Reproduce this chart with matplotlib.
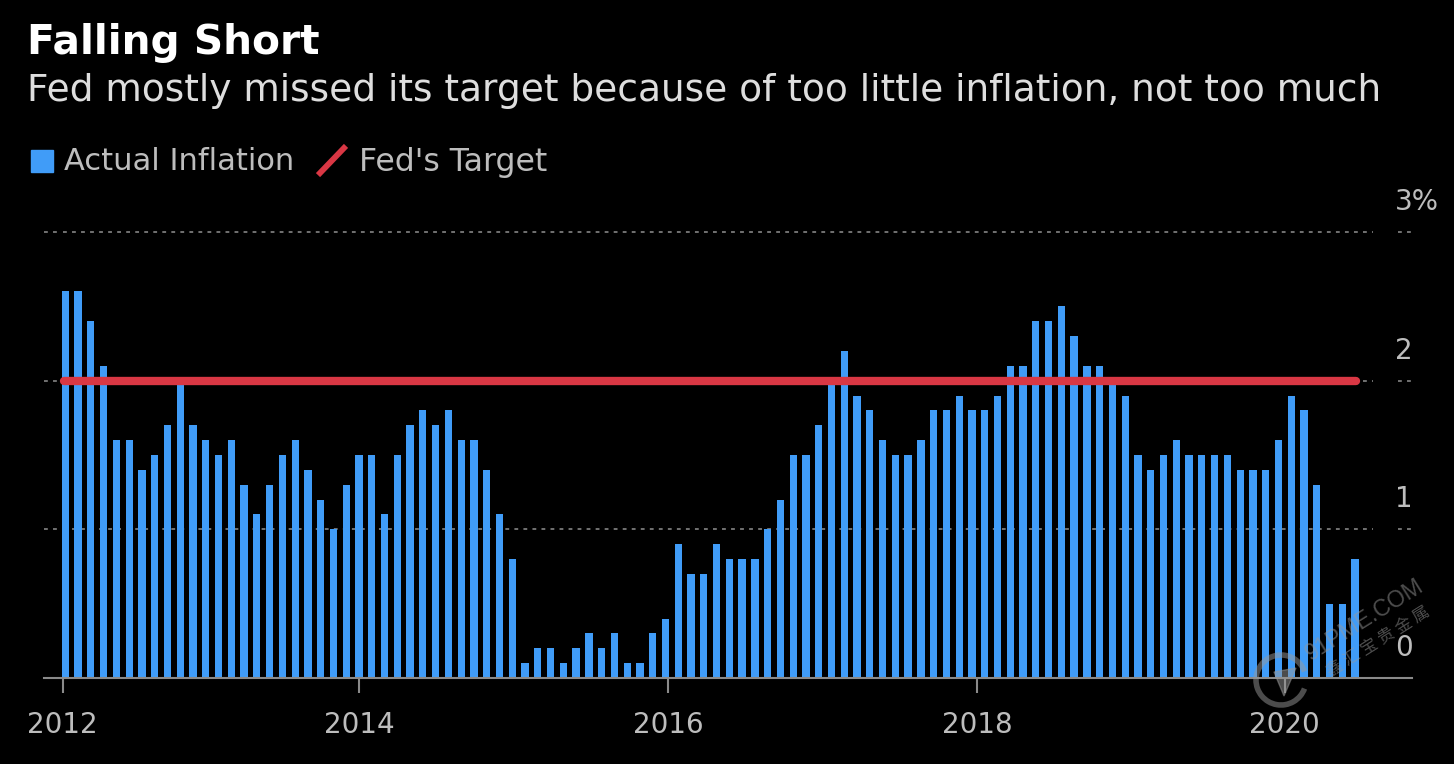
"""Falling Short: actual inflation vs the Fed's target, dark bar chart."""

import matplotlib

matplotlib.use("Agg")

import matplotlib.pyplot as plt
import numpy as np
from matplotlib.patches import Arc, Polygon

WIDTH, HEIGHT = 1454, 764

# monthly values, Jan 2012 - Jun 2020
inflation_2012 = [2.6, 2.6, 2.4, 2.1, 1.6, 1.6, 1.4, 1.5, 1.7, 2.0, 1.7, 1.6]
inflation_2013 = [1.5, 1.6, 1.3, 1.1, 1.3, 1.5, 1.6, 1.4, 1.2, 1.0, 1.3, 1.5]
inflation_2014 = [1.5, 1.1, 1.5, 1.7, 1.8, 1.7, 1.8, 1.6, 1.6, 1.4, 1.1, 0.8]
inflation_2015 = [0.1, 0.2, 0.2, 0.1, 0.2, 0.3, 0.2, 0.3, 0.1, 0.1, 0.3, 0.4]
inflation_2016 = [0.9, 0.7, 0.7, 0.9, 0.8, 0.8, 0.8, 1.0, 1.2, 1.5, 1.5, 1.7]
inflation_2017 = [2.0, 2.2, 1.9, 1.8, 1.6, 1.5, 1.5, 1.6, 1.8, 1.8, 1.9, 1.8]
inflation_2018 = [1.8, 1.9, 2.1, 2.1, 2.4, 2.4, 2.5, 2.3, 2.1, 2.1, 2.0, 1.9]
inflation_2019 = [1.5, 1.4, 1.5, 1.6, 1.5, 1.5, 1.5, 1.5, 1.4, 1.4, 1.4, 1.6]
inflation_2020 = [1.9, 1.8, 1.3, 0.5, 0.5, 0.8]
target = 2.0

year_ticks = [-0.2, 23, 47.2, 71.4, 95.5]
year_labels = ["2012", "2014", "2016", "2018", "2020"]
y_ticks = [0, 1, 2, 3]
y_labels = ["0", "1", "2", "3%"]

BLUE = "#409cf8"
RED = "#d93744"
GREY = "#8a8a8a"
LIGHT = "#bdbdbd"

BAR_START, BAR_STEP = 65.3, 12.77
AX_LEFT, AX_RIGHT, AX_BOTTOM, AX_TOP = 44, 1412, 678, 232
FONT = "DejaVu Sans"


def fx(px):
    return px / WIDTH


def fy(py):
    return 1 - py / HEIGHT


def data_x(px):
    return (px - BAR_START) / BAR_STEP


values = np.array(
    inflation_2012 + inflation_2013 + inflation_2014 + inflation_2015 + inflation_2016
    + inflation_2017 + inflation_2018 + inflation_2019 + inflation_2020
)
months = np.arange(len(values))

fig = plt.figure(figsize=(WIDTH / 100, HEIGHT / 100), dpi=100, facecolor="black")
ax = fig.add_axes([fx(AX_LEFT), fy(AX_BOTTOM), fx(AX_RIGHT - AX_LEFT), (AX_BOTTOM - AX_TOP) / HEIGHT])
ax.set_facecolor("black")
ax.set_xlim(data_x(AX_LEFT), data_x(AX_RIGHT))
ax.set_ylim(0, 3)

for level in y_ticks[1:]:
    for start, end in [(44, 58), (63, 1373), (1398, 1412)]:
        ax.plot([data_x(start), data_x(end)], [level, level], color="#7f7f7f", lw=1.25,
                ls=(0, (2.2, 3)), zorder=1, clip_on=False)

ax.bar(months, values, width=0.57, color=BLUE, zorder=2)
ax.plot([months[0] - 0.1, months[-1] + 0.1], [target, target], color=RED, lw=6,
        solid_capstyle="round", zorder=3)

for side in ["top", "right", "left"]:
    ax.spines[side].set_visible(False)
ax.spines["bottom"].set_color(GREY)
ax.spines["bottom"].set_linewidth(1.5)
ax.spines["bottom"].set_zorder(4)
ax.set_yticks([])
ax.set_xticks(year_ticks)
ax.set_xticklabels(year_labels)
ax.tick_params(axis="x", length=10.5, width=1.5, color=GREY, labelcolor=LIGHT, labelsize=20, pad=13.5)
for label in ax.get_xticklabels():
    label.set_fontfamily(FONT)

# y labels sit above their gridlines, on the right
for level, label in zip(y_ticks, y_labels):
    ax.annotate(label, (data_x(1395), level), xytext=(0, 21.5), textcoords="offset points",
                color=LIGHT, fontsize=20, family=FONT, ha="left", va="center",
                annotation_clip=False)

fig.text(fx(27), fy(43), "Falling Short", color="white", fontsize=29.3, fontweight="bold",
         family=FONT, va="center")
fig.text(fx(27), fy(91), "Fed mostly missed its target because of too little inflation, not too much",
         color="#dedede", fontsize=27, family=FONT, va="center")

# legend
fig.patches.append(plt.Rectangle((fx(31), fy(172)), fx(22), 22 / HEIGHT, color=BLUE,
                                 transform=fig.transFigure))
fig.text(fx(64), fy(161), "Actual Inflation", color=LIGHT, fontsize=22, family=FONT, va="center")
fig.add_artist(plt.Line2D([fx(320), fx(344)], [fy(173), fy(148)], color=RED, lw=4.2,
                          transform=fig.transFigure))
fig.text(fx(359), fy(162), "Fed's Target", color=LIGHT, fontsize=22.7, family=FONT, va="center")

# site watermark, bottom right
mark = (0.6, 0.6, 0.6)
fig.text(fx(1365), fy(620), "91PME.COM", color=mark, alpha=0.5, fontsize=16.5, rotation=32,
         family="Liberation Sans", ha="center", va="center")
fig.text(fx(1378), fy(642), "鑫 汇 宝 贵 金 属", color=mark, alpha=0.5, fontsize=12, rotation=32,
         family=["Noto Sans CJK SC", "DejaVu Sans"], ha="center", va="center")
fig.add_artist(Arc((1281, HEIGHT - 680), 50, 50, theta1=20, theta2=340, color=mark, alpha=0.5, lw=4,
                   transform=None))
fig.add_artist(Polygon([(1274, HEIGHT - 672), (1296, HEIGHT - 668), (1284, HEIGHT - 696)], color=mark,
                       alpha=0.5, transform=None))

fig.savefig("out.png", dpi=100, facecolor="black")
